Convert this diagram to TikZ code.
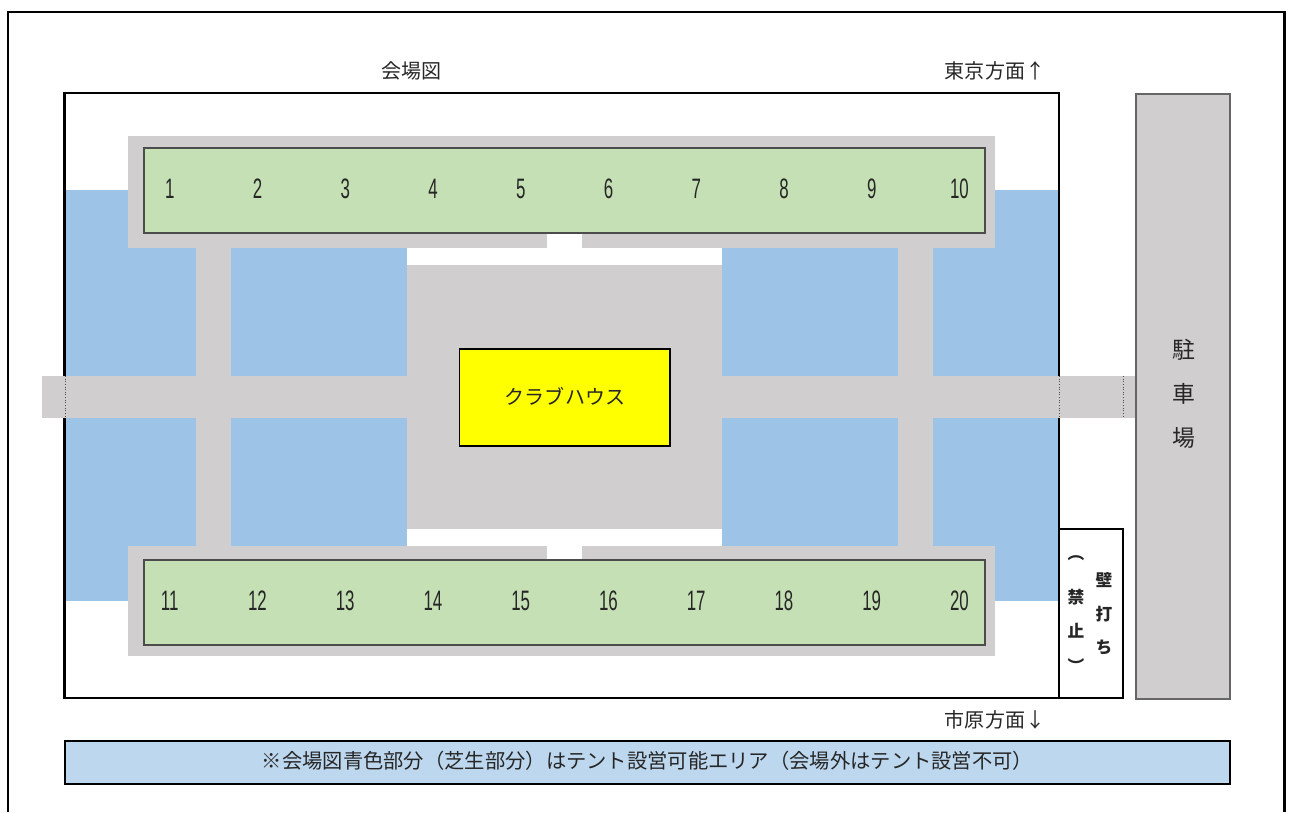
\documentclass[tikz,border=0pt]{standalone}
\usepackage{fontspec}
\usepackage{xcolor}
\setmainfont{Noto Sans CJK JP}
\newfontfamily\digitfont[FakeStretch=0.6]{Liberation Sans}
\usetikzlibrary{calc,positioning}
\definecolor{lawnblue}{HTML}{9DC3E6}
\definecolor{roadgray}{HTML}{D0CECE}
\definecolor{stallgreen}{HTML}{C5E0B4}
\definecolor{noteblue}{HTML}{BDD7EE}
\definecolor{clubyellow}{RGB}{255,255,0}

\begin{document}
\begin{tikzpicture}[x=0.02cm,y=-0.02cm]
	\tikzstyle{every node}=[font=\fontsize{11.4}{14}\selectfont, text=black!85, inner sep=0pt]
	\tikzstyle{frameline}=[line width=1.6pt, draw=black]
	\tikzstyle{road}=[fill=roadgray, draw=none]
	\tikzstyle{lawn}=[fill=lawnblue, draw=none]
	\tikzstyle{gap}=[fill=white, draw=none]
	\tikzstyle{stallrow}=[fill=stallgreen, draw=black!70, line width=0.7pt]
	\tikzstyle{gateline}=[line width=0.5pt, densely dotted, draw=black!70]
	\tikzstyle{stallno}=[font=\digitfont\fontsize{16}{16}\selectfont]
	\useasboundingbox (0,0) rectangle (1290,812);
	% outer frame, open at the bottom
	\draw [line width=1.7pt] (8,812) -- (8,12) -- (1284,12) -- (1284,812);
	% site
	\draw [frameline] (64.5,93) rectangle (1059,698);
	\fill [lawn] (65.5,190) rectangle (1058,601);
	% roads
	\fill [road] (128,136) rectangle (995,248);
	\fill [road] (128,546) rectangle (995,656);
	\fill [road] (196,248) rectangle (231,546);
	\fill [road] (898,248) rectangle (933,546);
	\fill [road] (42,376) rectangle (1136,418);
	% white strips round the clubhouse square
	\fill [gap] (407,248) rectangle (722,546);
	\fill [gap] (547,234) rectangle (582,248);
	\fill [gap] (547,546) rectangle (582,560);
	\fill [road] (407,265) rectangle (722,529);
	% gates
	\draw [gateline] (65,376) -- (65,418);
	\draw [gateline] (1059,376) -- (1059,418);
	\draw [gateline] (1123,376) -- (1123,418);
	% tent rows
	\draw [stallrow] (144,148) rectangle (985,233);
	\draw [stallrow] (144,560) rectangle (985,645);
	\foreach \n in {1,...,10} {
		\node [stallno] (stall\n) at ({169.7+87.75*(\n-1)},189) {\n};
	}
	\foreach \n [evaluate=\n as \m using int(\n+10)] in {1,...,10} {
		\node [stallno] (stall\m) at ({169.7+87.75*(\n-1)},601) {\m};
	}
	% clubhouse
	\draw [fill=clubyellow, line width=0.6pt] (459.5,349) rectangle (670,446);
	\node (clubhouse) at (565,396) {クラブハウス};
	% parking and wall
	\draw [fill=roadgray, draw=black!60, line width=0.6pt] (1136,94) rectangle (1230,699);
	\node [align=center, font=\fontsize{13}{25}\selectfont] (parking) at (1184,393.5) {駐\\車\\場};
	\draw [frameline] (1059,529) rectangle (1123,698);
	\node [align=center, font=\bfseries\fontsize{9.5}{19}\selectfont] (wallhit) at (1104,614) {壁\\打\\ち};
	\node [align=center, font=\bfseries\fontsize{9.5}{19}\selectfont] (wallban) at (1076,614.5) {︵\\[5.7pt]禁\\[0.6pt]止\\[1pt]︶};
	% titles
	\node (title) at (411.5,70.5) {会場図};
	\node (north) at (995,70.5) {東京方面↑};
	\node (south) at (995,720) {市原方面↓};
	% note
	\draw [frameline, fill=noteblue] (65,741) rectangle (1230,784);
	\node [font=\fontsize{11.55}{14}\selectfont] (note) at (647.5,761) {※会場図青色部分（芝生部分）はテント設営可能エリア（会場外はテント設営不可）};
\end{tikzpicture}
\end{document}
